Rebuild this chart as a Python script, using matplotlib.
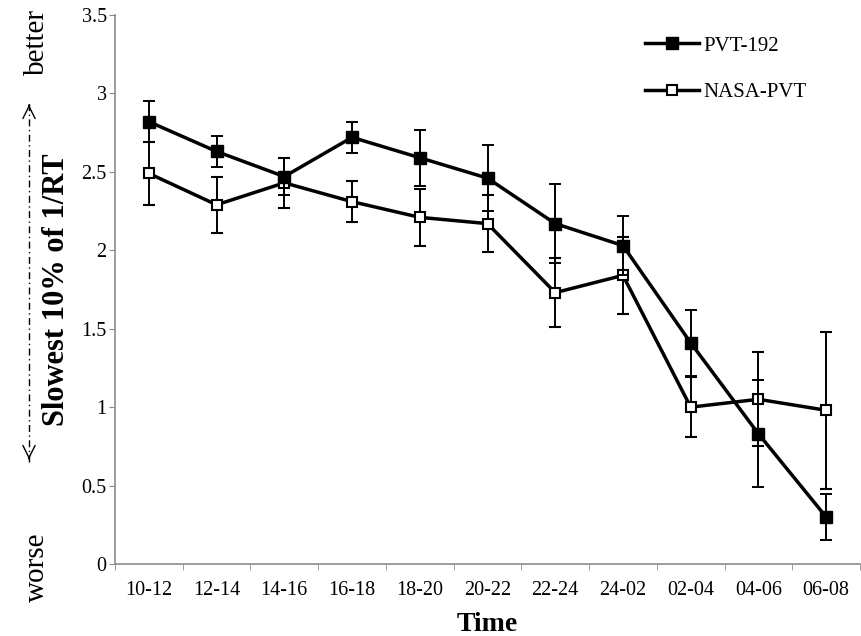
import numpy as np
import matplotlib
matplotlib.use("Agg")
import matplotlib.pyplot as plt
from matplotlib.lines import Line2D
from matplotlib.patches import FancyArrowPatch

plt.rcParams['font.family'] = ['Liberation Serif', 'DejaVu Serif']

# data
times = ['10-12', '12-14', '14-16', '16-18', '18-20', '20-22',
         '22-24', '24-02', '02-04', '04-06', '06-08']
pvt192 = [2.82, 2.63, 2.47, 2.72, 2.59, 2.46, 2.17, 2.03, 1.41, 0.83, 0.30]
pvt192_err = [0.13, 0.10, 0.12, 0.10, 0.18, 0.21, 0.25, 0.19, 0.21, 0.34, 0.145]
nasa = [2.49, 2.29, 2.43, 2.31, 2.21, 2.17, 1.73, 1.84, 1.00, 1.05, 0.98]
nasa_err = [0.20, 0.18, 0.16, 0.13, 0.18, 0.18, 0.22, 0.245, 0.19, 0.30, 0.50]

W, H = 861, 636
fig = plt.figure(figsize=(W / 100, H / 100), dpi=100)
ax = fig.add_axes([115 / W, 1 - 564 / H, 745 / W, 549 / H])

x = np.arange(len(times))
gray = '#8c8c8c'

ax.errorbar(x, nasa, yerr=nasa_err, color='black', lw=2.5, marker='s',
            ms=7.5, mfc='white', mec='black', mew=1.5, ecolor='black',
            elinewidth=1.4, capsize=4.5, capthick=1.4, zorder=2)
ax.errorbar(x, pvt192, yerr=pvt192_err, color='black', lw=2.5, marker='s',
            ms=8.5, mfc='black', mec='black', ecolor='black',
            elinewidth=1.4, capsize=4.5, capthick=1.4, zorder=3)

ax.set_xlim(-0.5, len(times) - 0.5)
ax.set_ylim(0, 3.5)
ax.set_yticks([0, 0.5, 1, 1.5, 2, 2.5, 3, 3.5])
ax.set_yticklabels(['0', '0.5', '1', '1.5', '2', '2.5', '3', '3.5'])
ax.set_xticks(x)
ax.set_xticklabels(times)
ax.set_xticks(np.arange(-0.5, len(times)), minor=True)
ax.tick_params(axis='x', which='major', length=0, labelsize=14.5, pad=12)
ax.tick_params(axis='x', which='minor', length=4, color=gray, direction='out')
ax.tick_params(axis='y', length=4, color=gray, labelsize=14.5, direction='out', pad=2)

for s in ['top', 'right']:
    ax.spines[s].set_visible(False)
for s in ['left', 'bottom']:
    ax.spines[s].set_color(gray)
    ax.spines[s].set_linewidth(1.2)

ax.set_xlabel('Time', fontsize=20, fontweight='bold', labelpad=9)
ax.set_ylabel('Slowest 10% of 1/RT', fontsize=22, fontweight='bold',
              va='center')
ax.yaxis.set_label_coords((56 - 115) / 745, 0.5)

# legend: lines with markers, no error bars
h1 = Line2D([], [], color='black', lw=2.5, marker='s', ms=8.5,
            mfc='black', mec='black')
h2 = Line2D([], [], color='black', lw=2.5, marker='s', ms=7.5,
            mfc='white', mec='black', mew=1.5)
ax.legend([h1, h2], ['PVT-192', 'NASA-PVT'], loc='upper left',
          bbox_to_anchor=(645 / W, 1 - 36 / H), bbox_transform=fig.transFigure,
          frameon=False, fontsize=15, labelspacing=1.3, handlelength=2.6,
          handletextpad=0.2, borderpad=0, borderaxespad=0)

# better / worse annotation on the left
fig.text(37 / W, 1 - 42 / H, 'better', rotation=90, fontsize=21,
         ha='center', va='center')
fig.text(37 / W, 1 - 567 / H, 'worse', rotation=90, fontsize=21,
         ha='center', va='center')
ax_x = 29 / W
top_y = 1 - 102 / H
bot_y = 1 - 462 / H
fig.add_artist(Line2D([ax_x, ax_x], [bot_y, top_y], color='black', lw=1,
                      dashes=(5, 2.5, 1, 2.5), transform=fig.transFigure))
for yy, dy in [(top_y, -0.01), (bot_y, 0.01)]:
    fig.add_artist(FancyArrowPatch(
        (ax_x, yy + dy), (ax_x, yy), arrowstyle='->', mutation_scale=22,
        lw=1, color='black', transform=fig.transFigure))

fig.savefig('out.png', dpi=100)
